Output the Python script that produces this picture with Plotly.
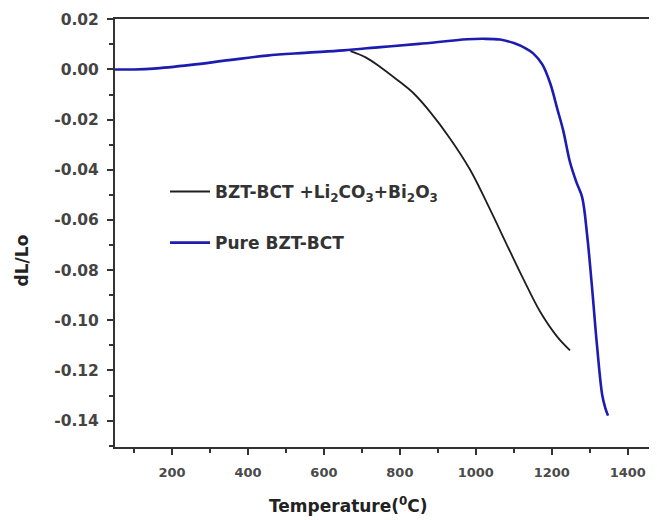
import plotly.graph_objects as go

# Pure BZT-BCT (blue)
pure_T = [50, 100, 151, 250, 350, 450, 550, 651, 749, 850, 977, 1020, 1064, 1100, 1130, 1151, 1175,
          1196, 1215, 1230, 1248, 1265, 1280, 1293, 1306, 1319, 1333, 1341, 1348]
pure_dL = [0.0, 0.0, 0.0003, 0.0018, 0.0037, 0.0055, 0.0066, 0.0076, 0.0089, 0.0102, 0.0120, 0.0122,
           0.0119, 0.0105, 0.0085, 0.0064, 0.0020, -0.0056, -0.0160, -0.0243, -0.0370, -0.0450,
           -0.0510, -0.0660, -0.0870, -0.1100, -0.1300, -0.1350, -0.1380]

# BZT-BCT + Li2CO3 + Bi2O3 (black)
dop_T = [670, 710, 750, 790, 836, 880, 932, 985, 1038, 1082, 1125, 1169, 1214, 1248]
dop_dL = [0.0073, 0.0048, 0.0008, -0.0038, -0.0095, -0.0170, -0.0275, -0.0400, -0.0560, -0.0700,
          -0.0835, -0.0965, -0.1065, -0.1120]

x_ticks = [200, 400, 600, 800, 1000, 1200, 1400]
y_ticks = [0.02, 0.00, -0.02, -0.04, -0.06, -0.08, -0.10, -0.12, -0.14]
y_tick_text = ["0.02", "0.00", "-0.02", "-0.04", "-0.06", "-0.08", "-0.10", "-0.12", "-0.14"]

FONT = "DejaVu Sans, Liberation Sans, Arial, sans-serif"

fig = go.Figure()
fig.add_trace(go.Scatter(
    x=dop_T, y=dop_dL, mode="lines", line=dict(color="#1e1e1e", width=1.8, shape="spline"),
    name="BZT-BCT +Li<sub>2</sub>CO<sub>3</sub>+Bi<sub>2</sub>O<sub>3</sub>", legendgroup="a"))
fig.add_trace(go.Scatter(
    x=pure_T, y=pure_dL, mode="lines", line=dict(color="#1c1cb0", width=2.6, shape="spline"),
    name="Pure BZT-BCT", legendgroup="b"))

axis_common = dict(
    showgrid=False, zeroline=False, showline=True, linecolor="#333333", linewidth=2,
    ticks="outside", tickcolor="#333333", tickwidth=2, ticklen=6,
)

fig.update_xaxes(
    range=[50, 1477], tickmode="array", tickvals=x_ticks, mirror=True,
    minor=dict(tickmode="linear", tick0=100, dtick=200, ticks="outside", ticklen=4,
               tickwidth=2, tickcolor="#333333"),
    tickfont=dict(family=FONT, size=13, color="#4a4a4a", weight="bold"),
    ticklabelstandoff=6,
    **axis_common)
fig.update_yaxes(
    range=[-0.1505, 0.0201], tickmode="array", tickvals=y_ticks, ticktext=y_tick_text,
    minor=dict(tickmode="linear", tick0=0.01, dtick=0.02, ticks="outside", ticklen=4,
               tickwidth=2, tickcolor="#333333"),
    tickfont=dict(family=FONT, size=15.5, color="#444444", weight="bold"),
    ticklabelstandoff=5,
    **axis_common)

fig.add_annotation(
    text="Temperature(<sup>0</sup>C)", xref="paper", yref="paper", x=0.43, y=-0.136,
    xanchor="center", yanchor="middle", showarrow=False,
    font=dict(family=FONT, size=17, color="#222222", weight="bold"))
fig.add_annotation(
    text="dL/Lo", xref="paper", yref="paper", x=-0.1716, y=0.436, textangle=-90,
    xanchor="center", yanchor="middle", showarrow=False,
    font=dict(family=FONT, size=17, color="#222222", weight="bold"))

# page body has an 8px default margin, so the figure is sized to fit the 657x520 window
fig.update_layout(
    width=649, height=512,
    margin=dict(l=107, r=0, t=11, b=73),
    paper_bgcolor="white", plot_bgcolor="white",
    showlegend=True,
    legend=dict(x=0.0923, y=0.638, xanchor="left", yanchor="top", bgcolor="rgba(0,0,0,0)",
                tracegroupgap=26, itemwidth=40,
                font=dict(family=FONT, size=17, color="#333333", weight="bold")),
)

fig.write_html("out.html")
